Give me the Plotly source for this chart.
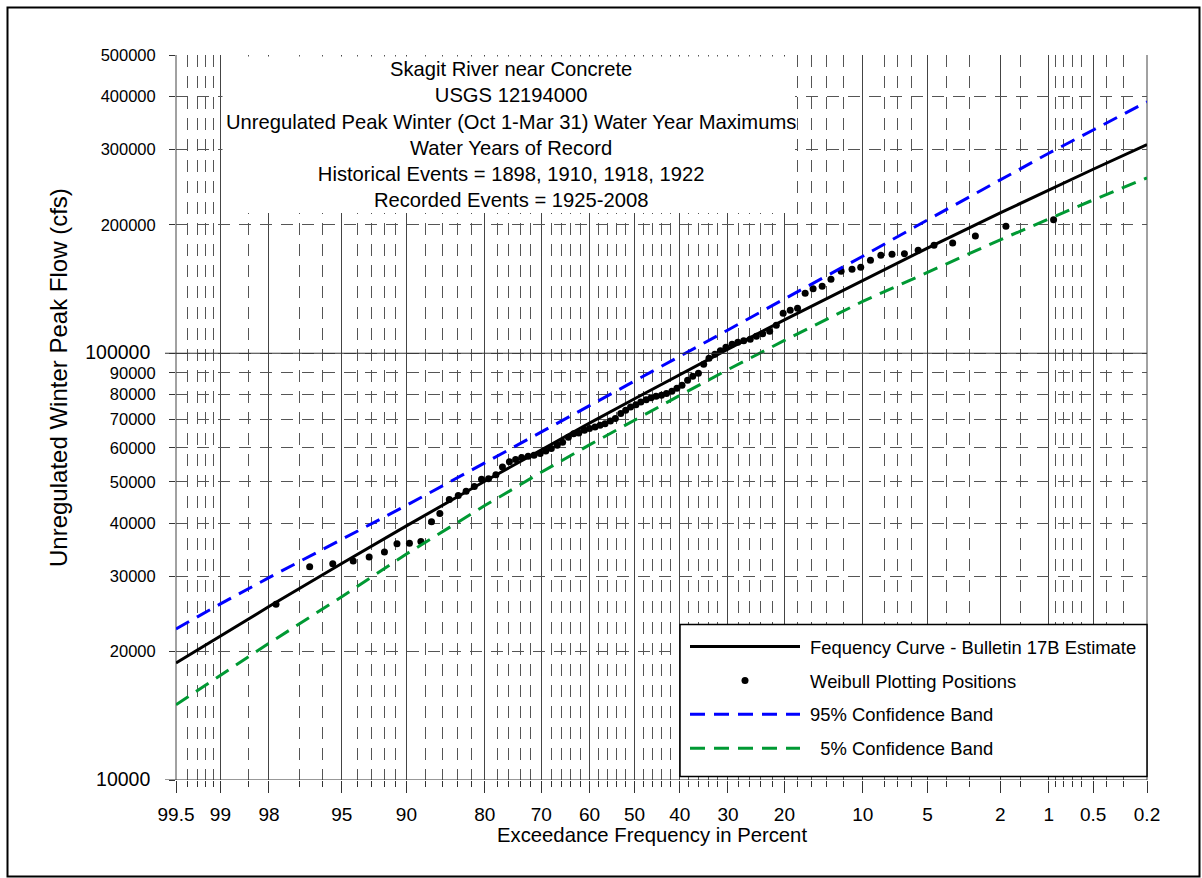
import math
from statistics import NormalDist
import plotly.graph_objects as go

# ---------------- data ----------------
tick_pct = [99.5, 99, 98, 95, 90, 80, 70, 60, 50, 40, 30, 20, 10, 5, 2, 1, 0.5, 0.2]
tick_labels = ["99.5", "99", "98", "95", "90", "80", "70", "60", "50", "40",
               "30", "20", "10", "5", "2", "1", "0.5", "0.2"]
minor_pct = [99.4, 99.3, 99.2, 99.1, 98.5, 97, 96, 94, 93, 92, 91, 88, 86, 84, 82,
             78, 76, 74, 72, 68, 66, 64, 62, 58, 56, 54, 52, 48, 46, 44, 42,
             38, 36, 34, 32, 28, 26, 24, 22, 18, 16, 14, 12, 8, 7, 6, 4, 3,
             1.5, 0.9, 0.8, 0.7, 0.6, 0.4, 0.3]
y_tick_vals = [10000, 20000, 30000, 40000, 50000, 60000, 70000, 80000, 90000,
               100000, 200000, 300000, 400000, 500000]
y_big_ticks = [10000, 100000]

curve_pct = [99.5, 99, 98, 95, 90, 80, 70, 60, 50, 40, 30, 20, 10, 5, 2, 1, 0.5, 0.2]
curve_cfs = [18800, 21760, 25490, 32170, 39410, 50130, 59440, 68600, 78260, 89150,
             102260, 119760, 148400, 176400, 213300, 241400, 269900, 308400]
upper95_cfs = [22600, 25860, 29800, 36600, 44010, 55340, 65330, 75380, 86220, 98430,
               113400, 134100, 168800, 205300, 255200, 294300, 333600, 388300]
lower5_cfs = [15000, 17600, 20910, 26880, 33850, 43960, 52610, 61000, 69760, 79630,
              91560, 107200, 132300, 155000, 184500, 206400, 228700, 257700]

weibull_pct = [0.93, 1.85, 2.78, 3.70, 4.63, 5.56, 6.48, 7.41, 8.33, 9.26,
               10.2, 11.1, 12.3, 13.5, 14.6, 15.8, 16.9, 18.0, 19.1, 20.2,
               21.3, 22.4, 23.6, 24.7, 25.8, 27.0, 28.1, 29.2, 30.4, 31.5,
               32.6, 33.8, 34.9, 36.0, 37.2, 38.3, 39.5, 40.6, 41.7, 42.9,
               44.0, 45.2, 46.3, 47.4, 48.6, 49.7, 50.9, 52.0, 53.1, 54.3,
               55.4, 56.6, 57.7, 58.8, 60.0, 61.1, 62.3, 63.4, 64.5, 65.7,
               66.8, 68.0, 69.1, 70.2, 71.4, 72.5, 73.7, 74.8, 75.9, 77.1,
               78.2, 79.4, 80.5, 81.6, 82.8, 83.9, 85.1, 86.3, 87.3, 88.5,
               89.7, 90.9, 92.0, 93.2, 94.3, 95.5, 96.6, 97.8]
weibull_cfs = [205600, 198500, 188300, 181300, 179000, 174300, 171200, 170600, 169600, 165100,
               159000, 157300, 155600, 149100, 143500, 141600, 138200, 127500, 126100, 124100,
               116300, 112600, 111100, 109600, 107900, 107000, 106100, 105000, 103300, 101400,
               99500, 97300, 94200, 89800, 88300, 86500, 84200, 82800, 81500, 80500,
               79700, 79300, 78700, 77800, 76900, 75700, 74800, 73500, 72300, 70300,
               69400, 68400, 67800, 67200, 66600, 66000, 65000, 64800, 63600, 61900,
               60900, 59800, 59000, 58200, 57700, 57400, 57000, 56400, 55700, 54100,
               51900, 50800, 50700, 48700, 47500, 46400, 45400, 42100, 40300, 36200,
               35900, 35800, 34200, 33300, 32600, 32100, 31600, 25800]

title_lines = ["Skagit River near Concrete", "USGS 12194000",
               "Unregulated Peak Winter (Oct 1-Mar 31) Water Year Maximums",
               "Water Years of Record", "Historical Events = 1898, 1910, 1918, 1922",
               "Recorded Events = 1925-2008"]

# ---------------- normal-probability axis ----------------
_nd = NormalDist()


def prob_axis(pcts):
    return [_nd.inv_cdf(1 - p / 100.0) for p in pcts]


W, H = 1202, 878
L, R, T, B = 176, 55, 55, 98
PW, PH = W - L - R, H - T - B


def px(xpix):
    return (xpix - L) / PW


def py(ypix):
    return (H - B - ypix) / PH


SANS = "Liberation Sans, Arial, sans-serif"

fig = go.Figure()
fig.add_trace(go.Scatter(x=prob_axis(curve_pct), y=curve_cfs, mode="lines",
                         line=dict(color="black", width=3), legendgroup="a",
                         name="&nbsp;Fequency Curve - Bulletin 17B Estimate"))
fig.add_trace(go.Scatter(x=prob_axis(weibull_pct), y=weibull_cfs, mode="markers",
                         marker=dict(color="black", size=7), legendgroup="b",
                         name="&nbsp;Weibull Plotting Positions"))
fig.add_trace(go.Scatter(x=prob_axis(curve_pct), y=upper95_cfs, mode="lines",
                         line=dict(color="#0000ff", width=3, dash="15px,9px"),
                         legendgroup="c", name="&nbsp;95% Confidence Band"))
fig.add_trace(go.Scatter(x=prob_axis(curve_pct), y=lower5_cfs, mode="lines",
                         line=dict(color="#009933", width=3, dash="15px,9px"),
                         legendgroup="d", name="&nbsp;&nbsp;&nbsp;5% Confidence Band"))

y_text = []
for v in y_tick_vals:
    if v in y_big_ticks:
        y_text.append('<span style="font-size:19.5px">%d&nbsp;</span>' % v)
    else:
        y_text.append(str(v))

GRID = "#555555"
fig.update_xaxes(
    range=prob_axis([99.5, 0.2]), tickmode="array", tickvals=prob_axis(tick_pct),
    ticktext=tick_labels, ticks="outside", ticklen=12, tickwidth=1, tickcolor="#333",
    showgrid=True, gridcolor="#444", gridwidth=1, zeroline=False, showline=False,
    tickfont=dict(family=SANS, size=19, color="black"), ticklabelstandoff=5,
    minor=dict(tickmode="array", tickvals=prob_axis(minor_pct), ticks="outside",
               ticklen=6, tickcolor="#333", showgrid=True, gridcolor=GRID,
               griddash="12px,9px", gridwidth=1),
)
fig.update_yaxes(
    type="log", range=[4, math.log10(500000)], tickmode="array", tickvals=y_tick_vals,
    ticktext=y_text, ticks="outside", ticklen=6, tickcolor="#333",
    showgrid=True, gridcolor=GRID, griddash="12px,9px", gridwidth=1,
    zeroline=False, showline=False, ticklabelstandoff=10,
    tickfont=dict(family=SANS, size=16.5, color="black"),
)

shapes = [
    # solid edges of the probability grid
    dict(type="line", xref="paper", yref="paper", x0=0, x1=0, y0=0, y1=1,
         line=dict(color="#444", width=1), layer="below"),
    dict(type="line", xref="paper", yref="paper", x0=1, x1=1, y0=0, y1=1,
         line=dict(color="#444", width=1), layer="below"),
]
for v in y_big_ticks:
    shapes.append(dict(type="line", xref="paper", yref="y", x0=px(165), x1=1,
                       y0=v, y1=v, line=dict(color="#333", width=1.2), layer="above"))
shapes += [
    # white box behind the chart heading (no data falls inside it)
    dict(type="rect", xref="paper", yref="paper", x0=px(222.5), x1=px(795),
         y0=py(213), y1=py(56.5), fillcolor="white", line=dict(width=0), layer="above"),
    # legend frame (no data falls inside it)
    dict(type="rect", xref="paper", yref="paper", x0=px(680), x1=px(1147),
         y0=py(776.5), y1=py(624.5), fillcolor="white", line=dict(color="black", width=1.5),
         layer="above"),
    # outer frame of the picture
    dict(type="rect", xref="paper", yref="paper", x0=px(7.5), x1=px(1199.5),
         y0=py(876.5), y1=py(7.5), line=dict(color="black", width=2), layer="above"),
]

annotations = [
    dict(text="<br>".join(title_lines), xref="paper", yref="paper", x=px(511), y=py(134.5),
         xanchor="center", yanchor="middle", showarrow=False, align="center",
         font=dict(family=SANS, size=20.2, color="black")),
    dict(text="Unregulated Winter Peak Flow (cfs)", xref="paper", yref="paper",
         x=px(58), y=py(378), textangle=-90, xanchor="center", yanchor="middle",
         showarrow=False, font=dict(family=SANS, size=24, color="black")),
    dict(text="Exceedance Frequency in Percent", xref="paper", yref="paper",
         x=px(651.5), y=py(835), xanchor="center", yanchor="middle",
         showarrow=False, font=dict(family=SANS, size=20.3, color="black")),
]

fig.update_layout(
    width=W, height=H, margin=dict(l=L, r=R, t=T, b=B, autoexpand=False),
    paper_bgcolor="white", plot_bgcolor="white",
    shapes=shapes, annotations=annotations, showlegend=True,
    legend=dict(x=px(685), y=py(628), xanchor="left", yanchor="top",
                bgcolor="rgba(0,0,0,0)", borderwidth=0, itemwidth=110,
                font=dict(family=SANS, size=18.4, color="black"),
                traceorder="grouped", tracegroupgap=7),
)

fig.write_html("out.html")
